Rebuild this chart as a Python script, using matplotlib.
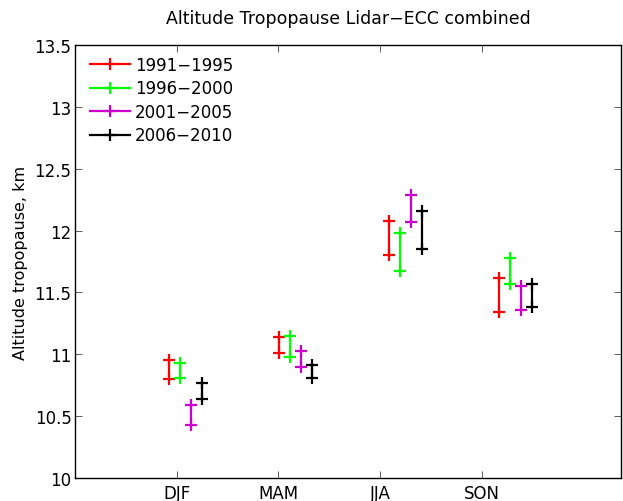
import numpy as np
import matplotlib
matplotlib.use('Agg')
import matplotlib.pyplot as plt

plt.rcParams['font.family'] = ['DejaVu Sans']

seasons = ['DJF', 'MAM', 'JJA', 'SON']
periods = ['1991\u22121995', '1996\u22122000', '2001\u22122005', '2006\u22122010']
colors = ['#ff0000', '#00ff00', '#cc00cc', '#000000']

# lower / upper ends of each bar, per period, per season (km)
low_9195 = [10.80, 11.01, 11.80, 11.34]
high_9195 = [10.95, 11.14, 12.08, 11.62]
low_9600 = [10.81, 10.98, 11.67, 11.57]
high_9600 = [10.93, 11.15, 11.98, 11.78]
low_0105 = [10.43, 10.90, 12.07, 11.36]
high_0105 = [10.59, 11.03, 12.29, 11.55]
low_0610 = [10.64, 10.81, 11.85, 11.38]
high_0610 = [10.77, 10.91, 12.16, 11.57]

lows = [low_9195, low_9600, low_0105, low_0610]
highs = [high_9195, high_9600, high_0105, high_0610]

fig = plt.figure(figsize=(6.23, 5.02), dpi=100)
ax = fig.add_axes([0.1204, 0.0458, 0.877, 0.8625])

s = np.arange(1, len(seasons) + 1)
for j, (lo, hi) in enumerate(zip(lows, highs)):
    x = 1.08 * (s + 0.1 * j) - 0.153
    for k in range(len(seasons)):
        ax.plot([x[k], x[k]], [lo[k], hi[k]], color=colors[j], lw=1.6,
                marker='+', ms=9, mew=1.6,
                label=periods[j] if k == 0 else None)

ax.set_xlim(0, 5.37)
ax.set_ylim(10, 13.5)
ax.set_xticks(s)
ax.set_xticklabels(seasons)
ax.set_yticks(np.arange(10, 13.51, 0.5))
ax.set_yticklabels(['10', '10.5', '11', '11.5', '12', '12.5', '13', '13.5'])
ax.tick_params(direction='in', length=5, width=0.6, top=True, right=True,
               labelsize=12, color='#444444')
ax.tick_params(axis='y', pad=2.5)
ax.tick_params(axis='x', pad=4)
for sp in ax.spines.values():
    sp.set_linewidth(1.0)

ax.set_ylabel('Altitude tropopause, km', fontsize=11.5, labelpad=5)
ax.set_title('Altitude Tropopause Lidar\u2212ECC combined', fontsize=12.5, pad=16)

leg = ax.legend(loc='upper left', frameon=False, fontsize=12,
                handlelength=2.4, handletextpad=0.3, labelspacing=0.33,
                borderpad=0, borderaxespad=0,
                bbox_to_anchor=(0.027, 0.975))

fig.savefig('out.png', dpi=100)
